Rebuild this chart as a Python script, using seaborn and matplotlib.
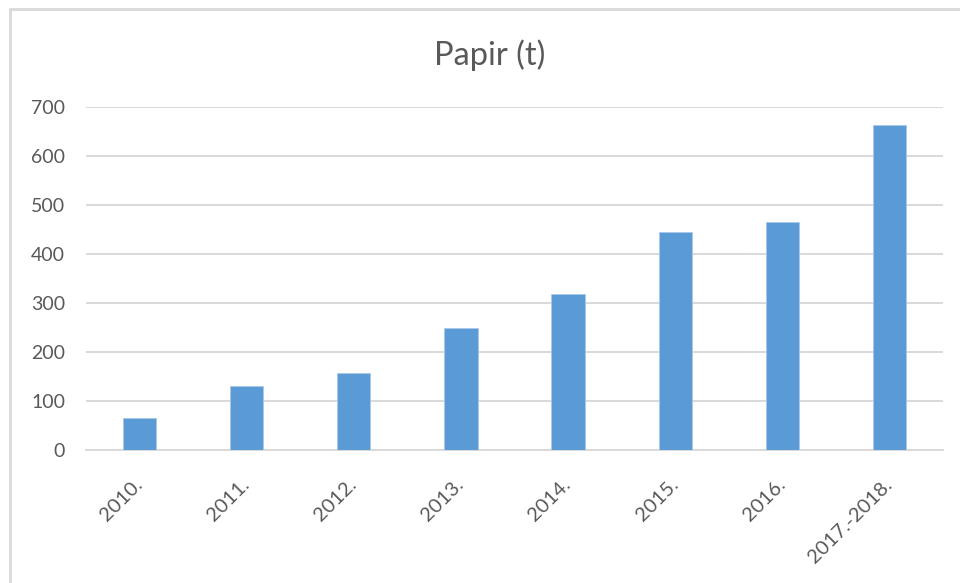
import matplotlib
matplotlib.use("Agg")
import matplotlib.pyplot as plt
from matplotlib.lines import Line2D
import seaborn as sns
import pandas as pd

categories = ["2010.", "2011.", "2012.", "2013.", "2014.", "2015.", "2016.", "2017.-2018."]
values = [65, 131, 157, 249, 319, 445, 466, 663]
yticks = [0, 100, 200, 300, 400, 500, 600, 700]
title = "Papir (t)"

df = pd.DataFrame({"cat": categories, "val": values})

sns.set_theme(style="white")
plt.rcParams["font.family"] = ["Lato", "DejaVu Sans"]

W, H = 960, 583
fig = plt.figure(figsize=(W / 100, H / 100), dpi=100)
ax = fig.add_axes([86 / W, 1 - 450 / H, (943 - 86) / W, (450 - 107) / H])

sns.barplot(data=df, x="cat", y="val", color="#5b9bd5", width=0.31,
            saturation=1, ax=ax, edgecolor="#a9c8ec", linewidth=0.6, zorder=3)

ax.set_ylim(0, 700)
ax.set_yticks(yticks)
ax.set_xlim(-0.5, len(categories) - 0.5)
ax.yaxis.grid(True, color="#d9d9d9", linewidth=1.4, zorder=0)
ax.set_axisbelow(True)
for s in ["top", "right", "left"]:
    ax.spines[s].set_visible(False)
ax.spines["bottom"].set_color("#d9d9d9")
ax.spines["bottom"].set_linewidth(1.4)
ax.set_xlabel("")
ax.set_ylabel("")
ax.tick_params(axis="both", length=0, colors="#595959", labelsize=14)
ax.tick_params(axis="y", pad=15)
ax.tick_params(axis="x", pad=23)
for lbl in ax.get_xticklabels():
    lbl.set_rotation(45)
    lbl.set_ha("right")
    lbl.set_va("center")
    lbl.set_rotation_mode("anchor")
    lbl.set_fontsize(14.5)

fig.text(490 / W, 1 - 55 / H, title, ha="center", va="center",
         fontsize=23.5, color="#595959")

# outer chart border
fig.add_artist(Line2D([10 / W, 1], [1 - 9 / H, 1 - 9 / H], transform=fig.transFigure,
                      color="#d9d9d9", linewidth=2))
fig.add_artist(Line2D([10 / W, 10 / W], [0, 1 - 9 / H], transform=fig.transFigure,
                      color="#d9d9d9", linewidth=2))

fig.savefig("out.png", dpi=100, facecolor="white")
